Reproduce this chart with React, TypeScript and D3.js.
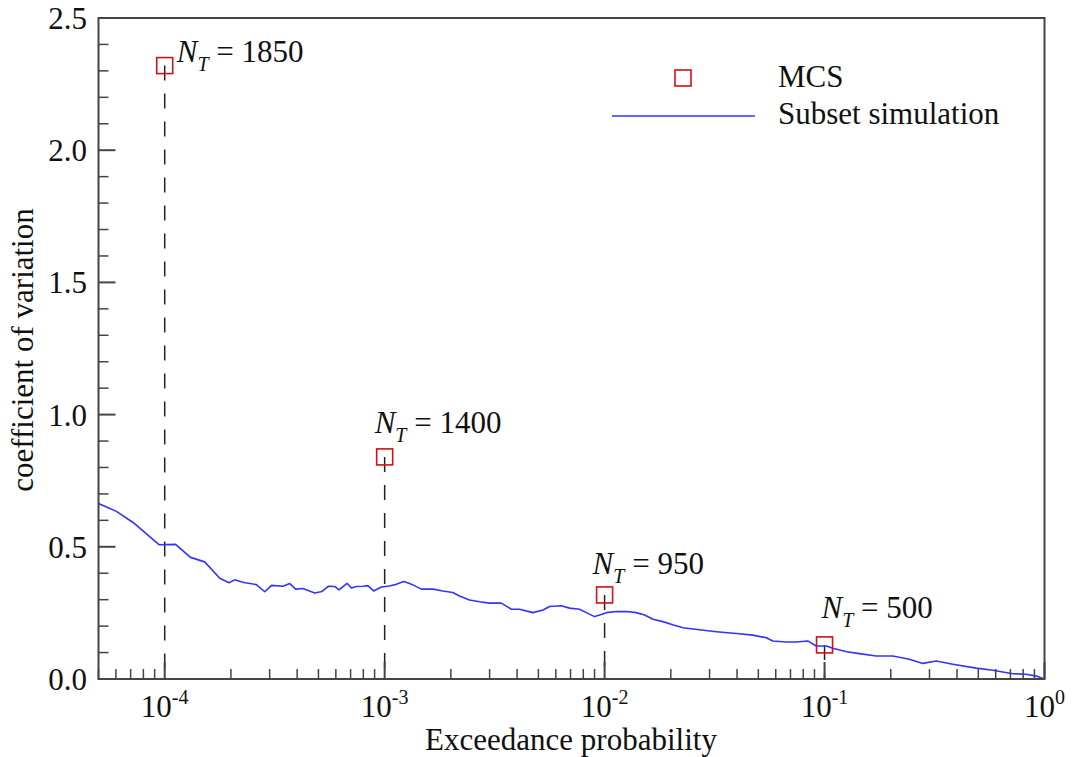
import React from "react";
import * as d3 from "d3";

// Subset simulation curve: exceedance probability vs coefficient of variation
const ssProb = [
  5.0e-5, 6.03e-5, 7.18e-5, 9.42e-5, 1.12e-4, 1.31e-4, 1.52e-4, 1.78e-4, 1.96e-4, 2.08e-4,
  2.29e-4, 2.61e-4, 2.85e-4, 3.06e-4, 3.45e-4, 3.70e-4, 3.94e-4, 4.25e-4, 4.81e-4, 5.19e-4,
  5.56e-4, 5.93e-4, 6.20e-4, 6.74e-4, 7.06e-4, 7.44e-4, 7.97e-4, 8.39e-4, 8.91e-4, 9.66e-4,
  1.05e-3, 1.13e-3, 1.22e-3, 1.30e-3, 1.35e-3, 1.47e-3, 1.66e-3, 1.84e-3, 2.04e-3, 2.19e-3,
  2.43e-3, 2.70e-3, 3.00e-3, 3.39e-3, 3.77e-3, 4.11e-3, 4.72e-3, 5.25e-3, 5.62e-3, 6.35e-3,
  6.93e-3, 7.69e-3, 8.26e-3, 9.01e-3, 9.49e-3, 1.02e-2, 1.13e-2, 1.26e-2, 1.39e-2, 1.52e-2,
  1.66e-2, 1.84e-2, 2.04e-2, 2.27e-2, 2.70e-2, 3.22e-2, 3.97e-2, 4.72e-2, 5.43e-2, 5.82e-2,
  6.70e-2, 7.43e-2, 8.39e-2, 9.16e-2, 0.102, 0.109, 0.126, 0.144, 0.172, 0.204,
  0.243, 0.280, 0.322, 0.383, 0.489, 0.582, 0.718, 0.826, 0.917, 1.0,
];
const ssCov = [
  0.664, 0.634, 0.592, 0.508, 0.509, 0.460, 0.443, 0.381, 0.364, 0.375,
  0.365, 0.357, 0.330, 0.354, 0.351, 0.361, 0.340, 0.342, 0.325, 0.331,
  0.351, 0.350, 0.337, 0.362, 0.344, 0.350, 0.351, 0.353, 0.333, 0.348,
  0.352, 0.358, 0.369, 0.361, 0.355, 0.340, 0.340, 0.333, 0.327, 0.314,
  0.299, 0.292, 0.287, 0.287, 0.264, 0.264, 0.251, 0.261, 0.274, 0.277,
  0.268, 0.264, 0.251, 0.236, 0.242, 0.251, 0.255, 0.255, 0.251, 0.242,
  0.226, 0.217, 0.205, 0.194, 0.186, 0.179, 0.172, 0.166, 0.156, 0.144,
  0.140, 0.140, 0.144, 0.125, 0.125, 0.116, 0.103, 0.096, 0.087, 0.087,
  0.075, 0.059, 0.068, 0.056, 0.041, 0.033, 0.020, 0.018, 0.011, 0.0,
];

// MCS points
const mcsProb = [1e-4, 1e-3, 1e-2, 1e-1];
const mcsCov = [2.32, 0.84, 0.318, 0.129];
const mcsN = ["1850", "1400", "950", "500"];
// label offsets (px) relative to each marker
const labelDx = [12, -10, -12, -3];
const labelDy = [-4, -24, -21, -27];

const xTickExps = [-4, -3, -2, -1, 0];
const yTicks = [0, 0.5, 1.0, 1.5, 2.0, 2.5];

const FONT = "'Liberation Serif', 'Times New Roman', serif";
const FS = 31;

export default function App() {
  const W = 1072, H = 757;
  const x = d3.scaleLog().domain([5e-5, 1]).range([98.5, 1044.5]);
  const y = d3.scaleLinear().domain([0, 2.5]).range([679, 18]);
  const [x0, x1] = x.range();
  const [y0, y1] = y.range();

  const xMinor: number[] = [];
  for (let e = -5; e <= -1; e++) {
    for (let m = 2; m <= 9; m++) {
      const v = m * Math.pow(10, e);
      if (v >= 5e-5 && v < 1) xMinor.push(v);
    }
  }
  const yMinor = d3.range(0, 26).map((i) => i / 10).filter((v) => Math.round(v * 10) % 5 !== 0);

  const line = d3
    .line<number>()
    .x((_, i) => x(ssProb[i]))
    .y((d) => y(d));

  const axisColor = "#444";

  return (
    <svg width={W} height={H} style={{ position: "absolute", left: 0, top: 0, background: "#fff" }} fontFamily={FONT}>
      <rect x={0} y={0} width={W} height={H} fill="#fff" />
      {mcsProb.map((p, i) => (
        <line key={"d" + i} x1={x(p)} x2={x(p)} y1={y(mcsCov[i])} y2={y0} stroke="#222" strokeWidth={1.5} strokeDasharray="15 13" />
      ))}
      <path d={line(ssCov) || ""} fill="none" stroke="#3333ff" strokeWidth={1.6} strokeLinejoin="round" />
      {mcsProb.map((p, i) => (
        <rect key={"m" + i} x={x(p) - 8} y={y(mcsCov[i]) - 8} width={16} height={16} fill="none" stroke="#d41010" strokeWidth={1.6} />
      ))}
      {mcsProb.map((p, i) => (
        <text key={"l" + i} x={x(p) + labelDx[i]} y={y(mcsCov[i]) + labelDy[i]} fontSize={FS} fill="#111">
          <tspan fontStyle="italic">N</tspan>
          <tspan fontStyle="italic" fontSize={20} dy={9}>T</tspan>
          <tspan dy={-9}>{" = " + mcsN[i]}</tspan>
        </text>
      ))}
      <rect x={x0} y={y1} width={x1 - x0} height={y0 - y1} fill="none" stroke={axisColor} strokeWidth={2} />
      {yTicks.map((t) => (
        <line key={"yt" + t} x1={x0} x2={x0 + 17} y1={y(t)} y2={y(t)} stroke={axisColor} strokeWidth={2} />
      ))}
      {yMinor.map((t) => (
        <line key={"ym" + t} x1={x0} x2={x0 + 10} y1={y(t)} y2={y(t)} stroke={axisColor} strokeWidth={1.5} />
      ))}
      {yTicks.map((t) => (
        <text key={"yl" + t} x={87} y={y(t) + 11} textAnchor="end" fontSize={FS} fill="#111">
          {t.toFixed(1)}
        </text>
      ))}
      {xTickExps.map((e) => (
        <line key={"xt" + e} x1={x(Math.pow(10, e))} x2={x(Math.pow(10, e))} y1={y0} y2={y0 - 17} stroke={axisColor} strokeWidth={2} />
      ))}
      {xMinor.map((v) => (
        <line key={"xm" + v} x1={x(v)} x2={x(v)} y1={y0} y2={y0 - 10} stroke={axisColor} strokeWidth={1.5} />
      ))}
      {xTickExps.map((e) => (
        <text key={"xl" + e} x={x(Math.pow(10, e))} y={717} textAnchor="middle" fontSize={FS} fill="#111">
          <tspan>10</tspan>
          <tspan fontSize={20} dy={-13}>{String(e)}</tspan>
        </text>
      ))}
      <text x={571} y={750} textAnchor="middle" fontSize={FS} fill="#111">Exceedance probability</text>
      <text transform="translate(33,350) rotate(-90)" textAnchor="middle" fontSize={FS} fill="#111">coefficient of variation</text>
      <rect x={675} y={70} width={16} height={16} fill="none" stroke="#d41010" strokeWidth={1.6} />
      <text x={778} y={87} fontSize={FS} fill="#111">MCS</text>
      <line x1={612} x2={755} y1={116} y2={116} stroke="#3333ff" strokeWidth={1.6} />
      <text x={778} y={124} fontSize={FS} fill="#111">Subset simulation</text>
    </svg>
  );
}
